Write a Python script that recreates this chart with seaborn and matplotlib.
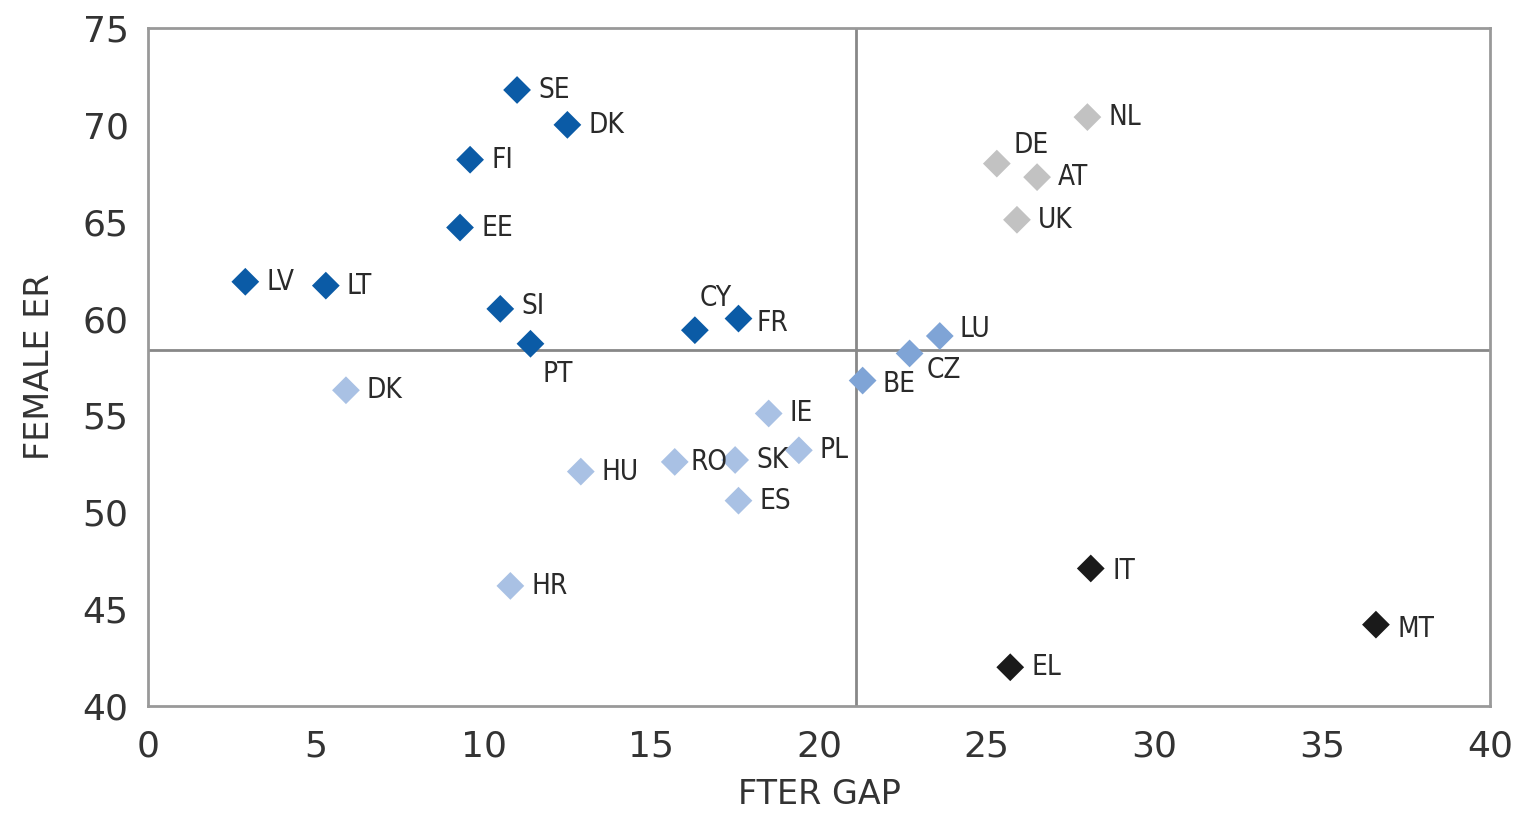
import numpy as np
import pandas as pd
import matplotlib
matplotlib.use("Agg")
import matplotlib.pyplot as plt
import seaborn as sns
from matplotlib import font_manager

# Data
countries = ["SE", "DK", "FI", "EE", "LV", "LT", "SI", "PT", "CY", "FR",
             "DK2", "HU", "RO", "SK", "ES", "IE", "PL", "HR",
             "BE", "CZ", "LU",
             "DE", "AT", "UK", "NL",
             "IT", "MT", "EL"]
fter_gap = [11.0, 12.5, 9.6, 9.3, 2.9, 5.3, 10.5, 11.4, 16.3, 17.6,
            5.9, 12.9, 15.7, 17.5, 17.6, 18.5, 19.4, 10.8,
            21.3, 22.7, 23.6,
            25.3, 26.5, 25.9, 28.0,
            28.1, 36.6, 25.7]
female_er = [71.8, 70.0, 68.2, 64.7, 61.9, 61.7, 60.5, 58.7, 59.4, 60.0,
             56.3, 52.1, 52.6, 52.7, 50.6, 55.1, 53.2, 46.2,
             56.8, 58.2, 59.1,
             68.0, 67.3, 65.1, 70.4,
             47.1, 44.2, 42.0]
groups = ["high"] * 10 + ["low"] * 8 + ["mid"] * 3 + ["grey"] * 4 + ["black"] * 3

avg_gap = 21.1
avg_er = 58.4

palette = {"high": "#0B5BA6", "low": "#A9C1E4", "mid": "#7FA4D6",
           "grey": "#C2C2C2", "black": "#1A1A1A"}

# label offsets in pixels (dx, dy), default is to the right
label_offsets = {"PT": (12, -30), "CY": (5, 32), "FR": (18, -4), "SI": (21, 3),
                 "RO": (16, 0), "BE": (20, -3), "CZ": (17, -17), "LU": (20, 7),
                 "DE": (17, 19), "IT": (22, -3), "MT": (22, -4)}

df = pd.DataFrame({"country": countries, "gap": fter_gap, "er": female_er, "group": groups})

sns.set_style("white")
plt.rcParams["font.family"] = ["DejaVu Sans"]

# narrow font for the country labels, if one is around
names = {f.name for f in font_manager.fontManager.ttflist}
label_family = "Liberation Sans Narrow" if "Liberation Sans Narrow" in names else "DejaVu Sans"

fig = plt.figure(figsize=(15.15, 8.16), dpi=100)
ax = fig.add_axes([0.0977, 0.1348, 0.8858, 0.8309])

sns.scatterplot(data=df, x="gap", y="er", hue="group", palette=palette,
                marker="D", s=200, edgecolor="none", legend=False, ax=ax, zorder=3)

ax.axvline(avg_gap, color="#888888", lw=2, zorder=1)
ax.axhline(avg_er, color="#888888", lw=2, zorder=1)

for _, row in df.iterrows():
    name = row["country"].replace("2", "")
    dx, dy = label_offsets.get(row["country"], (21, 0))
    ax.annotate(name, (row["gap"], row["er"]), xytext=(dx, dy), textcoords="offset pixels",
                ha="left", va="center", fontsize=20, color="#2a2a2a",
                family=label_family, fontstretch="condensed")

ax.set_xlim(0, 40)
ax.set_ylim(40, 75)
ax.set_xticks(np.arange(0, 41, 5))
ax.set_yticks(np.arange(40, 76, 5))
ax.tick_params(axis="both", labelsize=26, colors="#333333", length=0)
ax.tick_params(axis="x", pad=17)
ax.tick_params(axis="y", pad=14)
ax.set_xlabel("FTER GAP", fontsize=24, color="#333333", labelpad=10)
ax.set_ylabel("FEMALE ER", fontsize=24, color="#333333", labelpad=19)

for sp in ax.spines.values():
    sp.set_color("#999999")
    sp.set_linewidth(2)

fig.savefig("out.png", dpi=100)
